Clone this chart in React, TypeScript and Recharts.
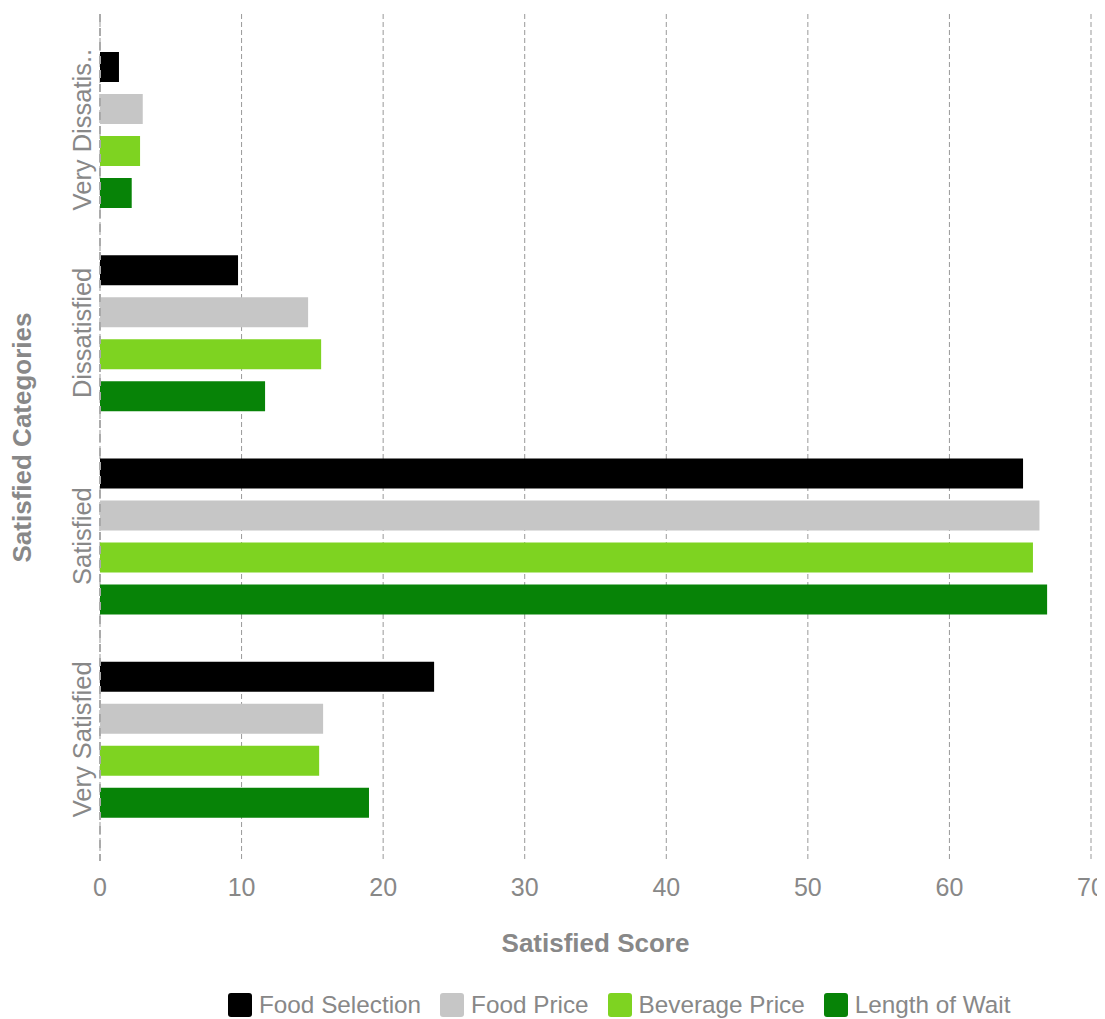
import { BarChart, Bar, XAxis, YAxis, CartesianGrid, Legend, Label } from "recharts";

const categories = ["Very Dissatisfied", "Dissatisfied", "Satisfied", "Very Satisfied"];
const foodSelection = [1.34, 9.75, 65.2, 23.6];
const foodPrice = [3.02, 14.7, 66.36, 15.76];
const beveragePrice = [2.83, 15.62, 65.9, 15.48];
const lengthOfWait = [2.24, 11.66, 66.9, 19.0];
const scoreTicks = [0, 10, 20, 30, 40, 50, 60, 70];

const series = [
  { key: "foodSelection", name: "Food Selection", color: "#000000" },
  { key: "foodPrice", name: "Food Price", color: "#C6C6C6" },
  { key: "beveragePrice", name: "Beverage Price", color: "#7ED321" },
  { key: "lengthOfWait", name: "Length of Wait", color: "#078307" },
];

const data = categories.map((category, i) => ({
  category,
  foodSelection: foodSelection[i],
  foodPrice: foodPrice[i],
  beveragePrice: beveragePrice[i],
  lengthOfWait: lengthOfWait[i],
}));

const FONT = "'Liberation Sans', Arial, sans-serif";
const TEXT = "#888888";

function truncate(label: string): string {
  return label.length > 15 ? label.slice(0, 13) + ".." : label;
}

function CategoryTick(props: any) {
  const { x, y, payload } = props;
  const tx = x;
  return (
    <text
      x={tx}
      y={y}
      transform={`rotate(-90, ${tx}, ${y})`}
      textAnchor="middle"
      fill={TEXT}
      fontSize={25.5}
      fontFamily={FONT}
    >
      {truncate(String(payload.value))}
    </text>
  );
}

function LegendContent() {
  return (
    <div style={{ display: "flex", alignItems: "center", height: 28, fontFamily: FONT }}>
      {series.map((s) => (
        <div key={s.key} style={{ display: "flex", alignItems: "center", marginRight: 19 }}>
          <span
            style={{
              width: 24,
              height: 24,
              background: s.color,
              borderRadius: 3,
              marginRight: 7,
              display: "inline-block",
            }}
          />
          <span style={{ fontSize: 24.3, color: TEXT, whiteSpace: "nowrap" }}>{s.name}</span>
        </div>
      ))}
    </div>
  );
}

export default function App() {
  return (
    <div style={{ width: 1097, height: 1011, fontFamily: FONT }}>
      <BarChart
        width={1097}
        height={1011}
        data={data}
        layout="vertical"
        margin={{ top: 6, right: 14, bottom: 0, left: 0 }}
        barSize={30}
        barGap={12}
      >
        <CartesianGrid horizontal={false} stroke="#999999" strokeDasharray="5 3" />
        <XAxis
          type="number"
          domain={[0, 70]}
          ticks={scoreTicks}
          axisLine={false}
          tickLine={false}
          tickSize={0}
          tickMargin={17}
          height={130}
          tick={{ fill: TEXT, fontSize: 25, fontFamily: FONT }}
        >
          <Label
            value="Satisfied Score"
            position="insideBottom"
            offset={39}
            style={{ fill: TEXT, fontSize: 26, fontWeight: "bold", fontFamily: FONT }}
          />
        </XAxis>
        <YAxis
          type="category"
          dataKey="category"
          width={92}
          padding={{ top: 14, bottom: 20 }}
          axisLine={{ stroke: "#AAAAAA", strokeWidth: 2, strokeDasharray: "8 6" }}
          tickLine={false}
          tickSize={0}
          tickMargin={9}
          tick={<CategoryTick />}
          interval={0}
        >
          <Label
            content={(props: any) => {
              const vb = props.viewBox;
              const cx = 14;
              const cy = vb.y + vb.height / 2;
              return (
                <text
                  x={cx}
                  y={cy}
                  transform={`rotate(-90, ${cx}, ${cy})`}
                  textAnchor="middle"
                  dominantBaseline="central"
                  fill={TEXT}
                  fontSize={26}
                  fontWeight="bold"
                  fontFamily={FONT}
                >
                  Satisfied Categories
                </text>
              );
            }}
          />
        </YAxis>
        <Legend
          verticalAlign="bottom"
          content={<LegendContent />}
          wrapperStyle={{ left: 220, width: "auto" }}
        />
        {series.map((s) => (
          <Bar key={s.key} dataKey={s.key} name={s.name} fill={s.color} isAnimationActive={false} />
        ))}
      </BarChart>
    </div>
  );
}
